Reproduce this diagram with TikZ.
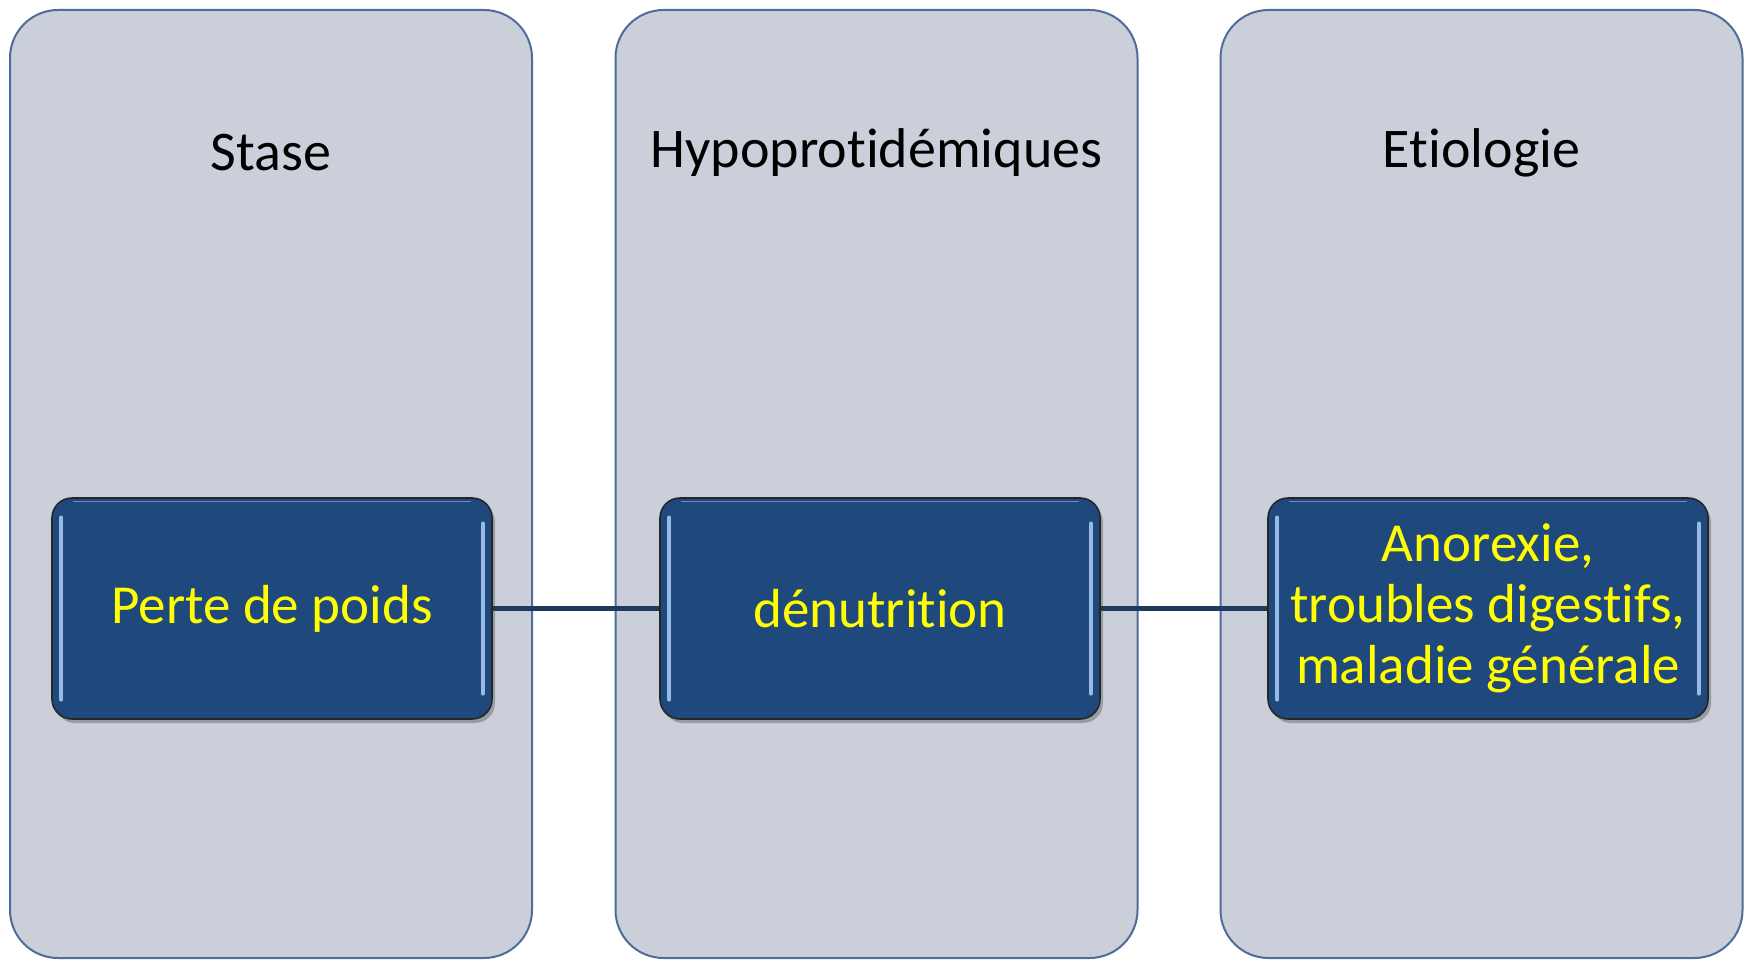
\documentclass[tikz,border=0pt]{standalone}
\usepackage{fontspec}
\setmainfont[Ligatures=NoCommon]{Carlito}
\usetikzlibrary{shadows}
\definecolor{colfill}{RGB}{203,207,217}
\definecolor{colborder}{RGB}{79,109,154}
\definecolor{boxfill}{RGB}{31,73,125}
\definecolor{boxborder}{RGB}{38,38,38}
\definecolor{conncol}{RGB}{31,58,96}
\definecolor{hlcol}{RGB}{150,185,230}
\definecolor{txtyellow}{RGB}{255,255,0}
\begin{document}
\begin{tikzpicture}[x=1pt,y=-1pt,
  colbox/.style={draw=colborder, line width=2pt, fill=colfill, rounded corners=48pt,
    minimum width=522pt, minimum height=948pt, inner sep=0pt},
  header/.style={font=\fontsize{56}{64}\selectfont, text=black, inner sep=0pt},
  itembox/.style={draw=boxborder, line width=1.6pt, fill=boxfill, rounded corners=20pt,
    minimum width=440pt, minimum height=221pt, inner sep=0pt, align=center,
    text=txtyellow, font=\fontsize{55}{61}\selectfont,
    drop shadow={shadow xshift=3pt, shadow yshift=-4pt, fill=black, opacity=0.25}},
  hl/.style={draw=hlcol, line width=3.5pt, line cap=round},
  conn/.style={draw=conncol, line width=5pt}]
\useasboundingbox (0,0) rectangle (1750,960);
% columns
\node[colbox] (c1) at (271,484) {};
\node[colbox] (c2) at (876.5,484) {};
\node[colbox] (c3) at (1481.5,484) {};
% headers
\node[header] (h1) at (271,153) {Stase};
\node[header] (h2) at (876.5,153) {Hypoprotidémiques};
\node[header] (h3) at (1481.5,153) {Etiologie};
% boxes
\node[itembox] (b1) at (272,608.5) {Perte de poids};
\node[itembox] (b2) at (880,608.5) {dénutrition};
\node[itembox] (b3) at (1488,608.5) {Anorexie,\\troubles digestifs,\\maladie générale};
% highlights
\foreach \b in {b1,b2,b3}{
  \draw[hl] ([xshift=10pt,yshift=-20pt]\b.north west) -- ([xshift=10pt,yshift=20pt]\b.south west);
  \draw[hl] ([xshift=-10pt,yshift=-26pt]\b.north east) -- ([xshift=-10pt,yshift=26pt]\b.south east);
  \draw[draw=hlcol, line width=1.2pt, opacity=0.6] ([xshift=22pt,yshift=-4pt]\b.north west) -- ([xshift=-22pt,yshift=-4pt]\b.north east);
}
% connectors
\draw[conn] (b1.east) -- (b2.west);
\draw[conn] (b2.east) -- (b3.west);
\end{tikzpicture}
\end{document}
